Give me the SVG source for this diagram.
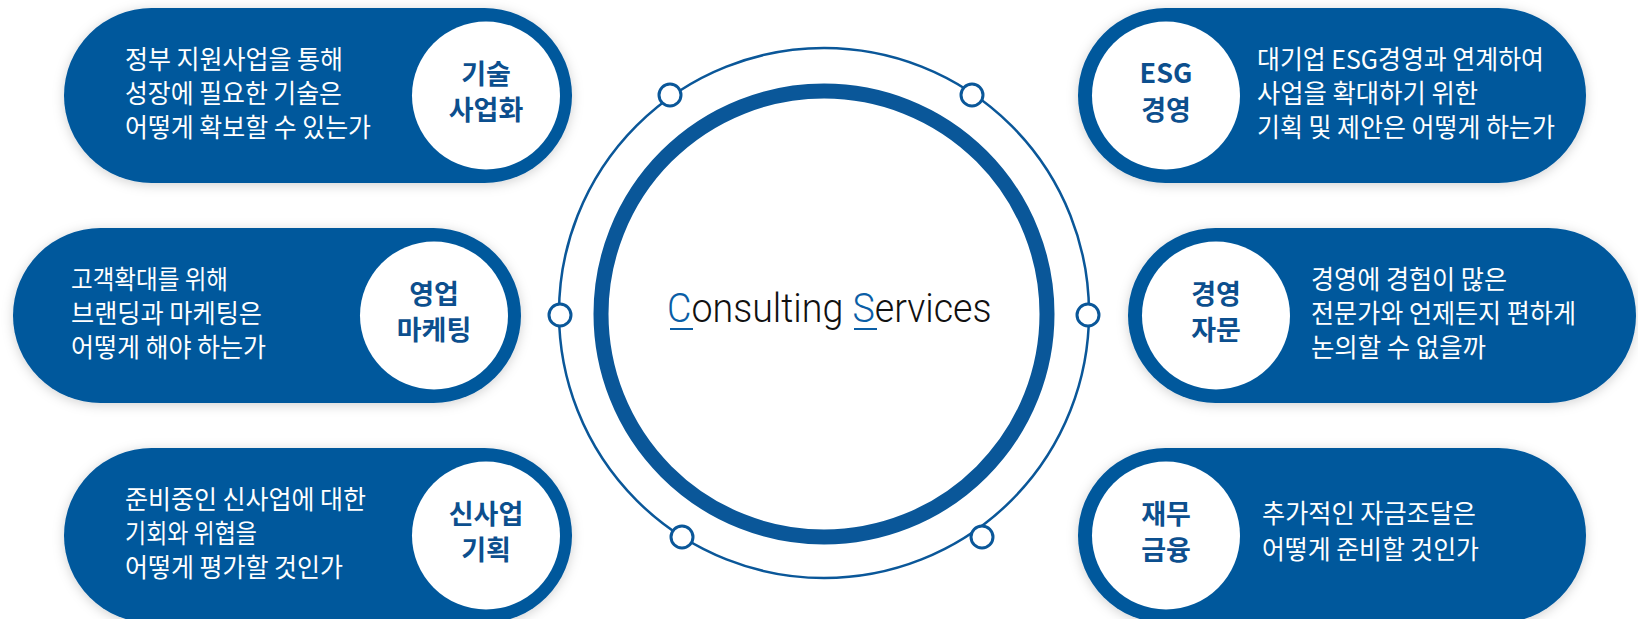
<svg xmlns="http://www.w3.org/2000/svg" width="1638" height="619" viewBox="0 0 1638 619">
<defs>
<filter id="sh" x="-10%" y="-20%" width="120%" height="140%">
<feDropShadow dx="0" dy="2" stdDeviation="6" flood-color="#000" flood-opacity="0.18"/>
</filter>
<style>
.pill{fill:#04589c;filter:url(#sh)}
.badge{fill:#ffffff}
.q{font-family:"Noto Sans CJK KR","Noto Sans",sans-serif;font-size:26px;fill:#ffffff}
.lb{font-family:"Noto Sans CJK KR","Noto Sans",sans-serif;font-size:27px;font-weight:700;fill:#0c4f8e;text-anchor:middle}
.ring{fill:none;stroke:#0a5799}
.dot{fill:#ffffff;stroke:#0a5799;stroke-width:3}
.hub{font-family:Roboto,"Liberation Sans",sans-serif;font-weight:300;font-size:40px;fill:#111}
.acc{fill:#0a5ea6}
</style>
</defs>
<rect width="1638" height="619" fill="#ffffff"/>

<g id="hub">
<circle class="ring" cx="824" cy="313" r="265" stroke-width="2.5"/>
<circle class="ring" cx="824" cy="314" r="223" stroke-width="15"/>
<circle class="dot" cx="670" cy="95" r="11"/>
<circle class="dot" cx="972" cy="95" r="11"/>
<circle class="dot" cx="560" cy="315" r="11"/>
<circle class="dot" cx="1088" cy="315" r="11"/>
<circle class="dot" cx="682" cy="537" r="11"/>
<circle class="dot" cx="982" cy="537" r="11"/>
<text class="hub" transform="translate(667,322) scale(0.94,1)" x="0" y="0"><tspan class="acc">C</tspan>onsulting <tspan class="acc">S</tspan>ervices</text>
<line x1="670" y1="329" x2="693" y2="329" stroke="#0a5ea6" stroke-width="2"/>
<line x1="854" y1="329" x2="877" y2="329" stroke="#0a5ea6" stroke-width="2"/>
</g>

<g id="node-tech">
<rect class="pill" x="64" y="8" width="508" height="175" rx="87.5"/>
<circle class="badge" cx="486" cy="95.5" r="74"/>
<text class="q" x="125" y="69" textLength="218" lengthAdjust="spacingAndGlyphs">정부 지원사업을 통해</text>
<text class="q" x="125" y="103" textLength="217" lengthAdjust="spacingAndGlyphs">성장에 필요한 기술은</text>
<text class="q" x="125" y="137" textLength="246" lengthAdjust="spacingAndGlyphs">어떻게 확보할 수 있는가</text>
<text class="lb" x="486" y="84">기술</text>
<text class="lb" x="486" y="120">사업화</text>
</g>

<g id="node-esg">
<rect class="pill" x="1078" y="8" width="508" height="175" rx="87.5"/>
<circle class="badge" cx="1166" cy="95.5" r="74"/>
<text class="q" x="1257" y="69" textLength="287" lengthAdjust="spacingAndGlyphs">대기업 ESG경영과 연계하여</text>
<text class="q" x="1257" y="103" textLength="221" lengthAdjust="spacingAndGlyphs">사업을 확대하기 위한</text>
<text class="q" x="1257" y="137" textLength="298" lengthAdjust="spacingAndGlyphs">기획 및 제안은 어떻게 하는가</text>
<text class="lb" x="1166" y="83">ESG</text>
<text class="lb" x="1166" y="120">경영</text>
</g>

<g id="node-marketing">
<rect class="pill" x="13" y="228" width="508" height="175" rx="87.5"/>
<circle class="badge" cx="434" cy="315.5" r="74"/>
<text class="q" x="71" y="289" textLength="157" lengthAdjust="spacingAndGlyphs">고객확대를 위해</text>
<text class="q" x="71" y="323" textLength="191" lengthAdjust="spacingAndGlyphs">브랜딩과 마케팅은</text>
<text class="q" x="71" y="357" textLength="195" lengthAdjust="spacingAndGlyphs">어떻게 해야 하는가</text>
<text class="lb" x="434" y="304">영업</text>
<text class="lb" x="434" y="340">마케팅</text>
</g>

<g id="node-advisory">
<rect class="pill" x="1128" y="228" width="508" height="175" rx="87.5"/>
<circle class="badge" cx="1216" cy="315.5" r="74"/>
<text class="q" x="1311" y="289" textLength="196" lengthAdjust="spacingAndGlyphs">경영에 경험이 많은</text>
<text class="q" x="1311" y="323" textLength="265" lengthAdjust="spacingAndGlyphs">전문가와 언제든지 편하게</text>
<text class="q" x="1311" y="357" textLength="175" lengthAdjust="spacingAndGlyphs">논의할 수 없을까</text>
<text class="lb" x="1216" y="304">경영</text>
<text class="lb" x="1216" y="340">자문</text>
</g>

<g id="node-newbiz">
<rect class="pill" x="64" y="448" width="508" height="175" rx="87.5"/>
<circle class="badge" cx="486" cy="535.5" r="74"/>
<text class="q" x="125" y="509" textLength="241" lengthAdjust="spacingAndGlyphs">준비중인 신사업에 대한</text>
<text class="q" x="125" y="543" textLength="132" lengthAdjust="spacingAndGlyphs">기회와 위협을</text>
<text class="q" x="125" y="577" textLength="218" lengthAdjust="spacingAndGlyphs">어떻게 평가할 것인가</text>
<text class="lb" x="486" y="524">신사업</text>
<text class="lb" x="486" y="560">기획</text>
</g>

<g id="node-finance">
<rect class="pill" x="1078" y="448" width="508" height="175" rx="87.5"/>
<circle class="badge" cx="1166" cy="535.5" r="74"/>
<text class="q" x="1262" y="523" textLength="214" lengthAdjust="spacingAndGlyphs">추가적인 자금조달은</text>
<text class="q" x="1262" y="559" textLength="217" lengthAdjust="spacingAndGlyphs">어떻게 준비할 것인가</text>
<text class="lb" x="1166" y="524">재무</text>
<text class="lb" x="1166" y="560">금융</text>
</g>
</svg>
